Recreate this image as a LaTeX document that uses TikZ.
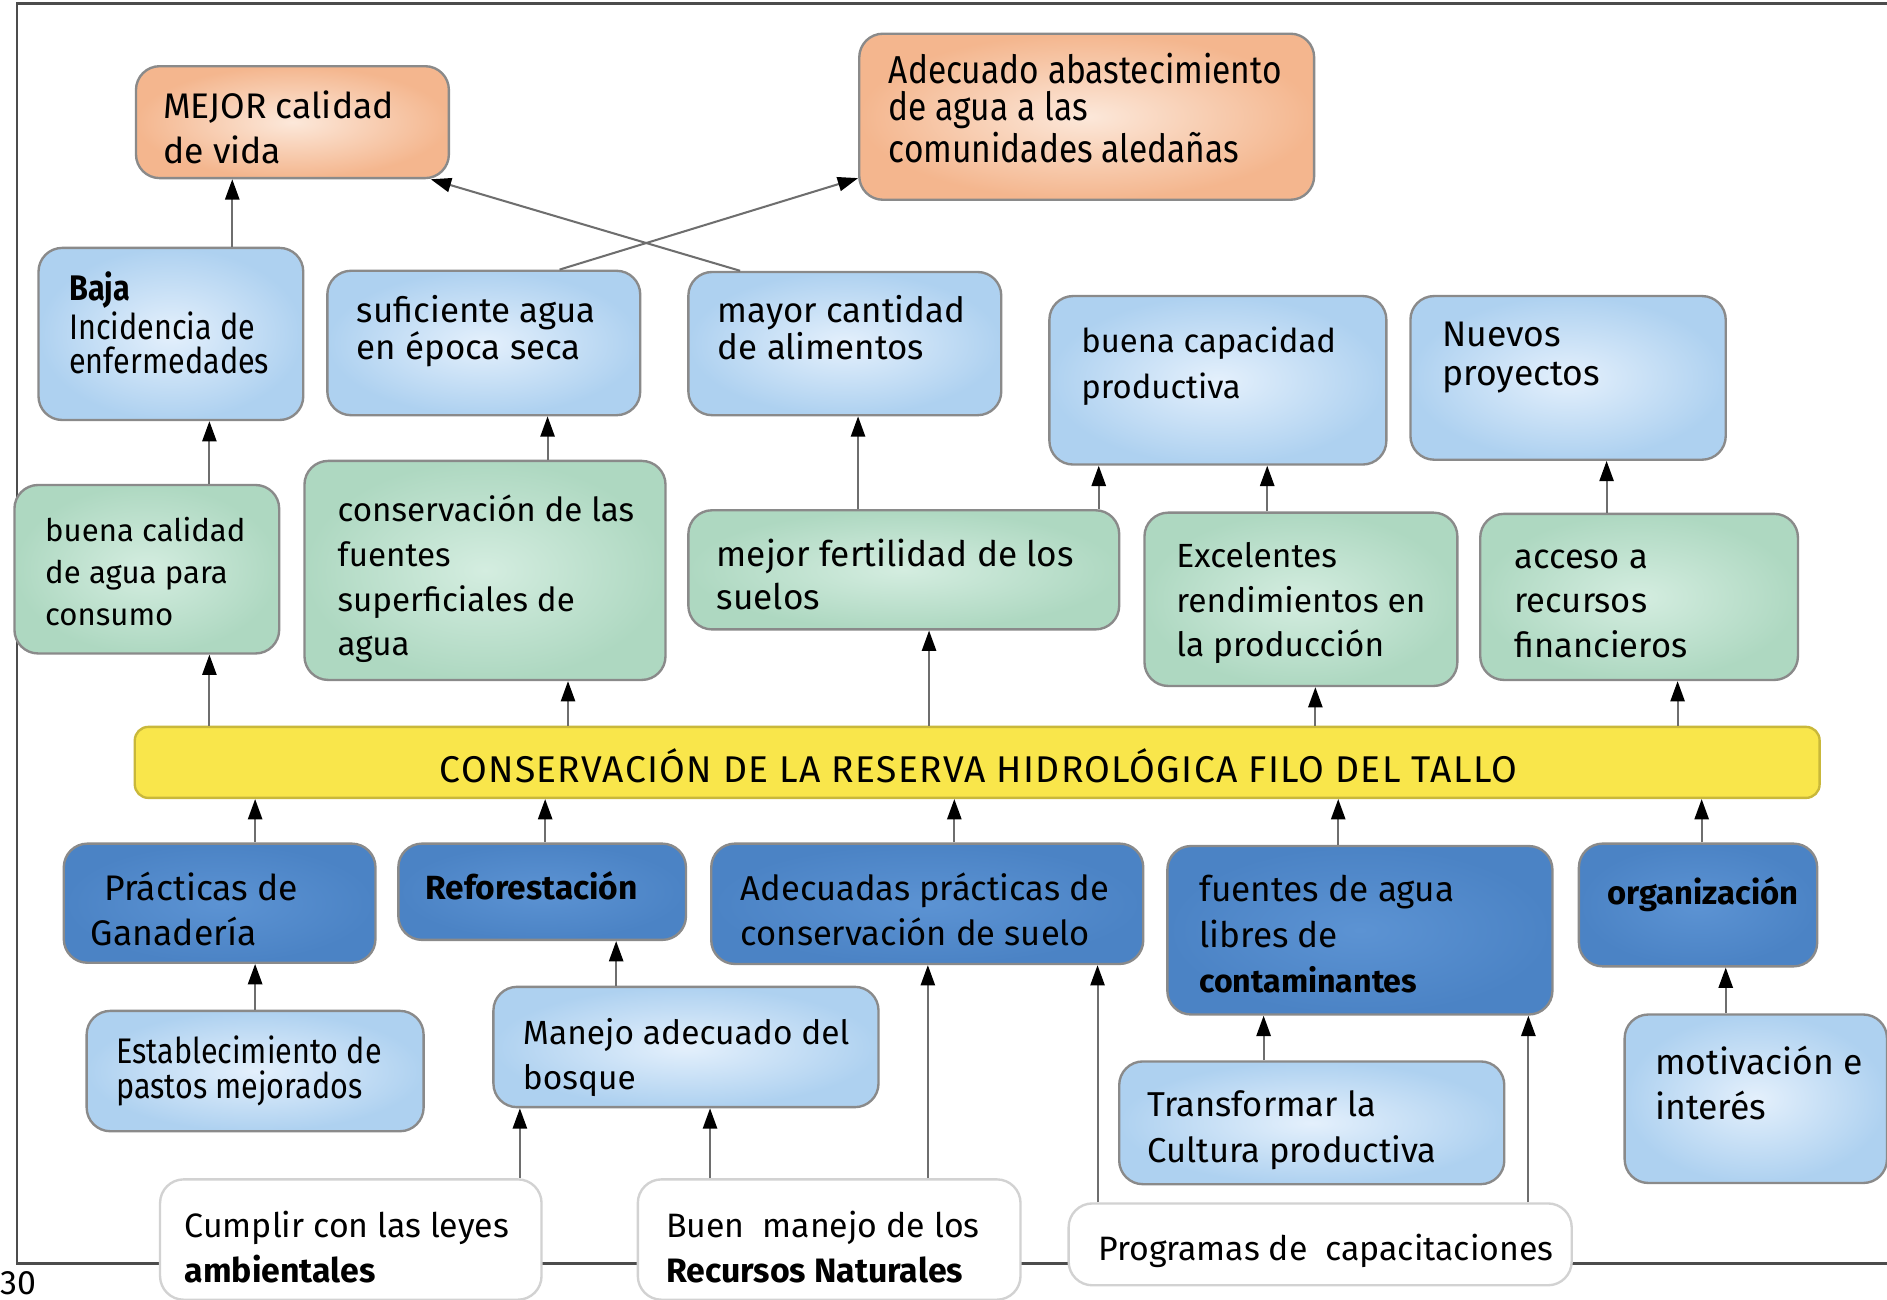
\documentclass[tikz,border=0pt]{standalone}
\usepackage{fontspec}
\setmainfont{Fira Sans}
\newfontfamily\narrowf[FakeStretch=0.86]{Fira Sans}
\newfontfamily\spacedf[LetterSpace=3.5]{Fira Sans}
\usetikzlibrary{arrows.meta,fit}
\definecolor{orO}{HTML}{F4B68E}
\definecolor{orI}{HTML}{FCE8DA}
\definecolor{lbO}{HTML}{AED1F0}
\definecolor{lbI}{HTML}{E4F0FC}
\definecolor{grO}{HTML}{AED8C1}
\definecolor{grI}{HTML}{D4EDE0}
\definecolor{yel}{HTML}{F9E64B}
\definecolor{yelB}{HTML}{C9B83A}
\definecolor{dbO}{HTML}{4B83C5}
\definecolor{dbI}{HTML}{5C93D3}
\definecolor{edge}{HTML}{8A8A8A}
\definecolor{lineC}{HTML}{6E6E6E}
\begin{document}
\begin{tikzpicture}[x=0.0125cm,y=-0.0125cm,
  box/.style={draw=edge, line width=0.7pt, rounded corners=7pt, inner sep=0pt},
  orbox/.style={box, inner color=orI, outer color=orO},
  lbbox/.style={box, inner color=lbI, outer color=lbO},
  grbox/.style={box, inner color=grI, outer color=grO},
  dbbox/.style={box, inner color=dbI, outer color=dbO},
  whbox/.style={box, fill=white, draw=gray!35},
  txt/.style={anchor=north west, inner sep=0pt, align=left, font=\fontsize{10.5pt}{13.2pt}\selectfont},
  arr/.style={draw=lineC, line width=0.6pt, -{Triangle[length=6pt,width=4.2pt,color=black]}}
]
\useasboundingbox (0,0) rectangle (1568,1080);
\fill[white] (0,0) rectangle (1568,1080);
% frame of the page
\draw[line width=0.7pt, black!70] (1568,3) -- (14,3) -- (14,1050) -- (1568,1050);
\node[anchor=west, inner sep=0pt, font=\fontsize{10pt}{12pt}\selectfont] (pagenum) at (0,1066) {30};

% ---------- top results ----------
\node[orbox, fit={(113,55) (373,148)}] (mejor) {};
\node[txt] (mejor-t) at (135,75) {MEJOR calidad\\de vida};
\node[orbox, fit={(714,28) (1092,166)}] (adec) {};
\node[txt, font=\narrowf\fontsize{11.5pt}{10.8pt}\selectfont] (adec-t) at (738,44) {Adecuado abastecimiento\\de agua a las\\comunidades aledañas};

% ---------- light blue row ----------
\node[lbbox, fit={(32,206) (252,349)}] (baja) {};
\node[txt, font=\narrowf\fontsize{10.5pt}{10pt}\selectfont] (baja-t) at (57,225) {\textbf{Baja}\\Incidencia de\\enfermedades};
\node[lbbox, fit={(272,225) (532,345)}] (suf) {};
\node[txt, font=\fontsize{10.3pt}{11pt}\selectfont] (suf-t) at (296,245) {suficiente agua\\en época seca};
\node[lbbox, fit={(572,226) (832,345)}] (mayor) {};
\node[txt, font=\fontsize{10.3pt}{11pt}\selectfont] (mayor-t) at (596,245) {mayor cantidad\\de alimentos};
\node[lbbox, fit={(872,246) (1152,386)}] (capac) {};
\node[txt, font=\fontsize{9.7pt}{13.5pt}\selectfont] (capac-t) at (898,271) {buena capacidad\\productiva};
\node[lbbox, fit={(1172,246) (1434,382)}] (nuevos) {};
\node[txt, font=\fontsize{10.5pt}{11.4pt}\selectfont] (nuevos-t) at (1198,267) {Nuevos\\proyectos};

% ---------- green row ----------
\node[grbox, fit={(12,403) (232,543)}] (bcal) {};
\node[txt, font=\fontsize{9.2pt}{12.4pt}\selectfont] (bcal-t) at (37,429) {buena calidad\\de agua para\\consumo};
\node[grbox, fit={(253,383) (553,565)}] (cons) {};
\node[txt, font=\fontsize{9.8pt}{13.2pt}\selectfont] (cons-t) at (280,411) {conservación de las\\fuentes\\superficiales de\\agua};
\node[grbox, fit={(572,424) (930,523)}] (fert) {};
\node[txt, font=\fontsize{10.4pt}{12.9pt}\selectfont] (fert-t) at (595,447) {mejor fertilidad de los\\suelos};
\node[grbox, fit={(951,426) (1211,570)}] (excel) {};
\node[txt, font=\fontsize{9.9pt}{13.2pt}\selectfont] (excel-t) at (977,450) {Excelentes\\rendimientos en\\la producción};
\node[grbox, fit={(1230,427) (1494,565)}] (acceso) {};
\node[txt, font=\fontsize{10.2pt}{13.2pt}\selectfont] (acceso-t) at (1258,456) {acceso a\\recursos\\financieros};

% ---------- central ----------
\node[box, fill=yel, draw=yelB, rounded corners=4pt, fit={(112,604) (1512,663)}] (cen) {};
\node[inner sep=0pt, font=\spacedf\fontsize{11pt}{12pt}\selectfont] (cen-t) at (813,636) {CONSERVACIÓN DE LA RESERVA HIDROLÓGICA FILO DEL TALLO};

% ---------- dark blue row ----------
\node[dbbox, fit={(53,701) (312,800)}] (prac) {};
\node[txt] (prac-t) at (75,724) {\hspace*{0.14cm}Prácticas de\\Ganadería};
\node[dbbox, fit={(331,701) (570,781)}] (refo) {};
\node[txt, font=\fontsize{9.9pt}{12pt}\selectfont] (refo-t) at (353,724) {\textbf{Reforestación}};
\node[dbbox, fit={(591,701) (950,801)}] (adpr) {};
\node[txt, font=\fontsize{10.2pt}{13.2pt}\selectfont] (adpr-t) at (615,725) {Adecuadas prácticas de\\conservación de suelo};
\node[dbbox, fit={(970,703) (1290,843)}] (fuen) {};
\node[txt, font=\fontsize{10.4pt}{13.3pt}\selectfont] (fuen-t) at (996,727) {fuentes de agua\\libres de\\{\fontsize{9.5pt}{13.3pt}\selectfont\textbf{contaminantes}}};
\node[dbbox, fit={(1312,701) (1510,803)}] (orga) {};
\node[txt, font=\fontsize{9.7pt}{12pt}\selectfont] (orga-t) at (1335,728) {\textbf{organización}};

% ---------- lower light blue ----------
\node[lbbox, fit={(72,840) (352,940)}] (estab) {};
\node[txt, font=\narrowf\fontsize{10.5pt}{10.3pt}\selectfont] (estab-t) at (96,860) {Establecimiento de\\pastos mejorados};
\node[lbbox, fit={(410,820) (730,920)}] (manejo) {};
\node[txt, font=\fontsize{9.9pt}{13.2pt}\selectfont] (manejo-t) at (434,846) {Manejo adecuado del\\bosque};
\node[lbbox, fit={(930,882) (1250,984)}] (transf) {};
\node[txt, font=\fontsize{10.2pt}{13.5pt}\selectfont] (transf-t) at (953,906) {Transformar la\\Cultura productiva};
\node[lbbox, fit={(1350,843) (1568,983)}] (motiv) {};
\node[txt] (motiv-t) at (1375,869) {motivación e\\interés};

% ---------- bottom white ----------
\node[whbox, fit={(133,980) (450,1080)}] (cumplir) {};
\node[txt, font=\fontsize{10pt}{13.2pt}\selectfont] (cumplir-t) at (153,1006) {Cumplir con las leyes\\\textbf{ambientales}};
\node[whbox, fit={(530,980) (848,1080)}] (buen) {};
\node[txt, font=\fontsize{10pt}{13.2pt}\selectfont] (buen-t) at (553,1006) {Buen\ \ manejo de los\\\textbf{Recursos Naturales}};
\node[whbox, fit={(888,1000) (1306,1068)}] (prog) {};
\node[txt, font=\fontsize{10pt}{13.2pt}\selectfont] (prog-t) at (912,1025) {Programas de\ \ capacitaciones};

% ---------- connectors ----------
\draw[arr] (baja.north -| 193,0) -- (mejor.south -| 193,0);
\draw[arr] (suf.north -| 465,0) -- (adec.west |- 0,148);
\draw[arr] (mayor.north -| 615,0) -- (mejor.south -| 358,0);
\draw[arr] (bcal.north -| 174,0) -- (baja.south -| 174,0);
\draw[arr] (cons.north -| 455,0) -- (suf.south -| 455,0);
\draw[arr] (fert.north -| 713,0) -- (mayor.south -| 713,0);
\draw[arr] (fert.north -| 913,0) -- (capac.south -| 913,0);
\draw[arr] (excel.north -| 1053,0) -- (capac.south -| 1053,0);
\draw[arr] (acceso.north -| 1335,0) -- (nuevos.south -| 1335,0);
\draw[arr] (cen.north -| 174,0) -- (bcal.south -| 174,0);
\draw[arr] (cen.north -| 472,0) -- (cons.south -| 472,0);
\draw[arr] (cen.north -| 772,0) -- (fert.south -| 772,0);
\draw[arr] (cen.north -| 1093,0) -- (excel.south -| 1093,0);
\draw[arr] (cen.north -| 1394,0) -- (acceso.south -| 1394,0);
\draw[arr] (prac.north -| 212,0) -- (cen.south -| 212,0);
\draw[arr] (refo.north -| 453,0) -- (cen.south -| 453,0);
\draw[arr] (adpr.north -| 793,0) -- (cen.south -| 793,0);
\draw[arr] (fuen.north -| 1112,0) -- (cen.south -| 1112,0);
\draw[arr] (orga.north -| 1414,0) -- (cen.south -| 1414,0);
\draw[arr] (estab.north -| 212,0) -- (prac.south -| 212,0);
\draw[arr] (manejo.north -| 512,0) -- (refo.south -| 512,0);
\draw[arr] (cumplir.north -| 432,0) -- (manejo.south -| 432,0);
\draw[arr] (buen.north -| 590,0) -- (manejo.south -| 590,0);
\draw[arr] (buen.north -| 771,0) -- (adpr.south -| 771,0);
\draw[arr] (prog.north -| 912,0) -- (adpr.south -| 912,0);
\draw[arr] (transf.north -| 1050,0) -- (fuen.south -| 1050,0);
\draw[arr] (prog.north -| 1270,0) -- (fuen.south -| 1270,0);
\draw[arr] (motiv.north -| 1434,0) -- (orga.south -| 1434,0);
\end{tikzpicture}
\end{document}
